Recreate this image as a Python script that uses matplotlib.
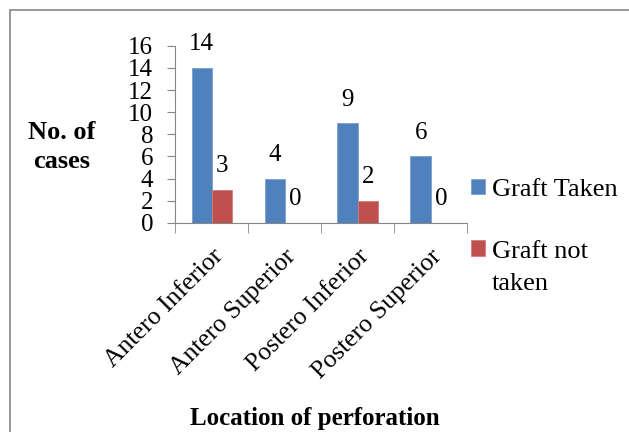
import matplotlib
matplotlib.use("Agg")
import matplotlib.pyplot as plt
import numpy as np
from matplotlib.patches import Rectangle

categories = ["Antero Inferior", "Antero Superior", "Postero Inferior", "Postero Superior"]
graft_taken = [14, 4, 9, 6]
graft_not_taken = [3, 0, 2, 0]
series_names = ["Graft Taken", "Graft not"]
series_names_cont = "taken"

plt.rcParams["font.family"] = ["Liberation Serif", "DejaVu Serif"]

fig = plt.figure(figsize=(6.29, 4.32), dpi=100)
ax = fig.add_axes([0.279, 0.484, 0.464, 0.41])

x = np.arange(len(categories))
w = 0.28
b1 = ax.bar(x - w / 2, graft_taken, w, color="#4F81BD", edgecolor="#7A9FD0", linewidth=0.6)
b2 = ax.bar(x + w / 2, graft_not_taken, w, color="#C0504D", edgecolor="#D07C7A", linewidth=0.6)

for bars, vals in ((b1, graft_taken), (b2, graft_not_taken)):
    for r, v in zip(bars, vals):
        ax.annotate(str(v), (r.get_x() + r.get_width() / 2, v),
                    xytext=(0, 9), textcoords="offset points",
                    ha="center", va="bottom", fontsize=18)

ax.set_xlim(-0.5, len(categories) - 0.5)
ax.set_ylim(0, 16)
ax.set_yticks(range(0, 17, 2))
ax.tick_params(axis="y", labelsize=18, length=6, color="#868686", pad=10)

ax.set_xticks(x)
ax.set_xticklabels(categories, rotation=45, ha="right", va="top",
                   rotation_mode="anchor", fontsize=18.5)
ax.tick_params(axis="x", length=0, pad=16)
ax.set_xticks(np.arange(-0.5, len(categories)), minor=True)
ax.tick_params(axis="x", which="minor", length=7, color="#868686")

for s in ("top", "right"):
    ax.spines[s].set_visible(False)
for s in ("left", "bottom"):
    ax.spines[s].set_color("#868686")

fig.text(62 / 629, 1 - 147 / 432, "No. of\ncases", ha="center", va="center",
         fontsize=19, fontweight="bold", linespacing=1.3)
fig.text(315 / 629, 1 - 418 / 432, "Location of perforation", ha="center", va="center",
         fontsize=18, fontweight="bold")

leg = fig.legend([b1, b2], series_names, loc="upper left",
                 bbox_to_anchor=(460 / 629, 1 - 168 / 432), frameon=False,
                 fontsize=19, handlelength=0.55, handleheight=0.55,
                 handletextpad=0.25, labelspacing=1.5, borderaxespad=0)

# second line of the "Graft not taken" label, under the legend text
fig.canvas.draw()
bb = leg.get_texts()[1].get_window_extent()
fig.text(bb.x0 / 629, (bb.y0 - 32) / 432, series_names_cont, ha="left", va="bottom",
         fontsize=19)

fig.patches.append(Rectangle((10 / 629, -0.1), 1.1, 1 - 10 / 432 + 0.1,
                             transform=fig.transFigure, fill=False,
                             edgecolor="#868686", linewidth=1.2))

fig.savefig("out.png", dpi=100)
